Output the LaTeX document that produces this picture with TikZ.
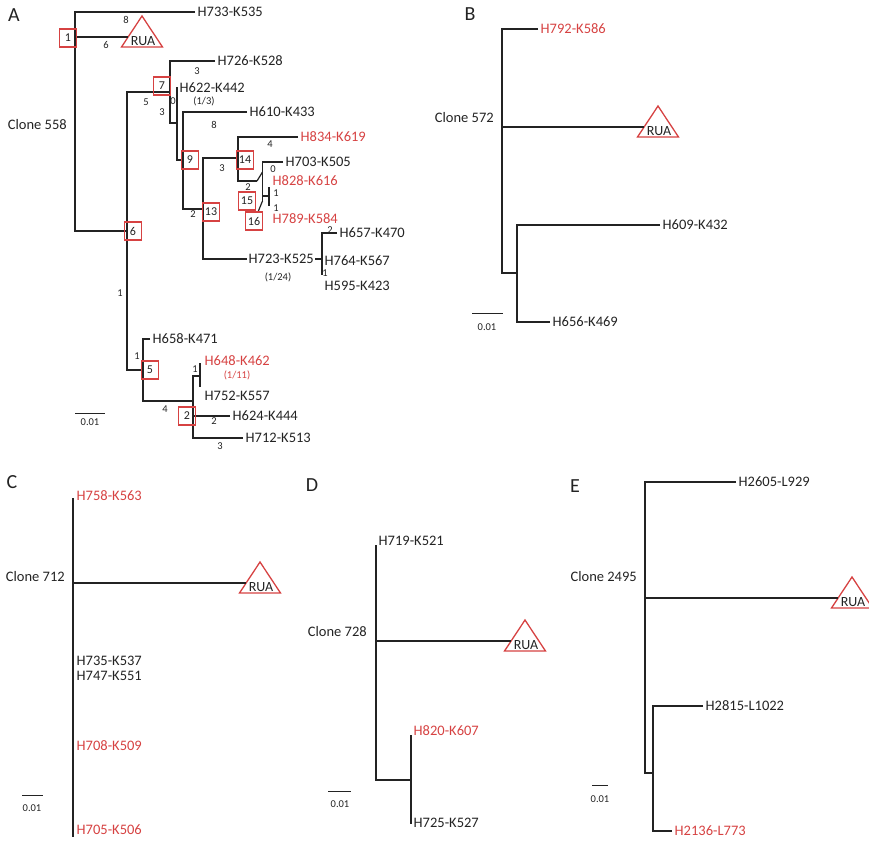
\documentclass[tikz,border=0pt]{standalone}
\usepackage{fontspec}
\setmainfont{Carlito}
\usetikzlibrary{calc}
\definecolor{rd}{RGB}{214,66,66}
\definecolor{ln}{RGB}{35,35,35}
\tikzset{
 br/.style={draw=ln, line width=1.2pt},
 lbl/.style={anchor=west, inner sep=2.5pt, font=\fontsize{14.5}{16}\selectfont, text=ln},
 rlbl/.style={lbl, text=rd},
 el/.style={inner sep=0pt, font=\fontsize{10.5}{12}\selectfont, text=ln},
 rel/.style={el, text=rd},
 nbox/.style={draw=rd, line width=1.2pt, minimum width=17pt, minimum height=18pt, inner sep=0pt, font=\fontsize{12}{14}\selectfont, text=ln},
 rua/.style={draw=rd, line width=1.3pt, line join=miter},
 ruatext/.style={inner sep=0pt, font=\fontsize{14}{16}\selectfont, text=ln},
 clone/.style={anchor=east, inner sep=0pt, font=\fontsize{14.5}{16}\selectfont, text=ln},
 panel/.style={inner sep=0pt, font=\fontsize{20}{22}\selectfont, text=ln},
 sbar/.style={draw=ln, line width=1pt},
 stxt/.style={inner sep=0pt, font=\fontsize{10.5}{12}\selectfont, text=ln},
}
\newcommand\ruamark[3]{%
  \draw[rua] (#2-20.5,#3) -- (#2,#3-31) -- (#2+20.5,#3) -- cycle;
  \node[ruatext] (#1) at (#2+1,#3-6) {RUA};
  \coordinate (#1-in) at (#2-13.6,#3-10);
}
\begin{document}
\begin{tikzpicture}[x=1pt,y=-1pt]
\useasboundingbox (0,0) rectangle (869,843);

% ================= Panel A =================
\node[panel] (pA) at (14,15) {A};
\node[clone] (cA) at (67,125) {Clone 558};

\coordinate (A-n1) at (75,37);
\coordinate (A-rb) at (75,231);
\coordinate (A-n6) at (127,231);
\coordinate (A-6t) at (127,92);
\coordinate (A-n7) at (170,92);
\coordinate (A-6b) at (127,370);
\coordinate (A-n5) at (143,370);

\node[lbl] (A733) at (195,12) {H733-K535};
\ruamark{Arua}{142}{47}
\draw[br] (A733.west) -| (A-rb) -- (A-n6);
\draw[br] (A-n1) -- (A-n1 -| Arua-in);
\draw[br] (A-n7) -- (A-6t) -- (A-6b) -- (A-n5);

% node 7
\node[lbl] (A726) at (215,61) {H726-K528};
\coordinate (A-7b) at (170,123);
\coordinate (A-n8) at (177,123);
\draw[br] (A726.west) -| (A-7b) -- (A-n8);

% H622 / node 9
\coordinate (A-622t) at (177,87);
\coordinate (A-n9) at (183,160);
\node[lbl] (A622) at (177,88) {H622-K442};
\draw[br] (A-622t) |- (A-n9);

\node[lbl] (A610) at (247,112) {H610-K433};
\coordinate (A-n13) at (203,209);
\draw[br] (A610.west) -| (A-n9) |- (A-n13);

% node 13
\coordinate (A-n14) at (238,158);
\coordinate (A-n723) at (322,259);
\draw[br] (A-n14) -| (A-n13) |- (A-n723);
\node[lbl, fill=white, inner sep=1.5pt] (A723) at (247,259) {H723-K525};

\node[lbl, inner ysep=0pt] (A657) at (337,233) {H657-K470};
\coordinate (A-723b) at (322,275);
\draw[br] (A657.west) -| (A-723b);
\node[lbl] (A764) at (322,261) {H764-K567};
\node[lbl] (A595) at (322,286) {H595-K423};

% node 14
\node[rlbl] (A834) at (298,137) {H834-K619};
\coordinate (A-14b) at (238,181);
\coordinate (A-n15) at (257,181);
\draw[br] (A834.west) -| (A-14b) -- (A-n15);
\coordinate (A-15v) at (262.5,172);
\draw[br] (A-n15) -- (A-15v);
\node[lbl] (A703) at (283,162) {H703-K505};
\coordinate (A-16t) at (262.5,201);
\draw[br] (A703.west) -| (A-16t);
\coordinate (A-tk) at (269,196);
\coordinate (A-tkt) at (269,187);
\coordinate (A-tkb) at (269,206);
\draw[br] (A-tk -| A-16t) -- (A-tk);
\draw[br] (A-tkt) -- (A-tkb);
\coordinate (A-16d) at (258,212);
\draw[br] (A-16t) -- (A-16d);
\node[rlbl] (A828) at (270,181) {H828-K616};
\node[rlbl, inner ysep=0pt] (A789) at (270,219) {H789-K584};

% node 5 / node 2
\node[lbl] (A658) at (150,339) {H658-K471};
\coordinate (A-n2) at (193,401);
\draw[br] (A658.west) -| (A-n5) |- (A-n2);
\coordinate (A-648) at (200,376);
\node[lbl] (A712) at (243,438) {H712-K513};
\node[lbl] (A624) at (230,416) {H624-K444};
\draw[br] (A-648) -| (A-n2) |- (A712.west);
\draw[br] (A-n2 |- A624.west) -- (A624.west);
\coordinate (A-648t) at (200,363);
\coordinate (A-648b) at (200,387);
\draw[br] (A-648t) -- (A-648b);
\node[rlbl] (A648) at (202,361) {H648-K462};
\node[rel] (A648f) at (237,375) {(1/11)};
\node[lbl] (A752) at (202,396) {H752-K557};

% edge labels
\node[el] (e1) at (126,20) {8};
\node[el] (e2) at (106,45) {6};
\node[el] (e3) at (146,102) {5};
\node[el] (e4) at (197,71) {3};
\node[el] (e5) at (173,101) {0};
\node[el] (e6) at (204,101) {(1/3)};
\node[el] (e7) at (162,112) {3};
\node[el] (e8) at (214,125) {8};
\node[el] (e9) at (193,214) {2};
\node[el] (e10) at (222,168) {3};
\node[el] (e11) at (270,144) {4};
\node[el] (e12) at (273,169) {0};
\node[el] (e13) at (248,187) {2};
\node[el] (e14) at (276,193) {1};
\node[el] (e15) at (276,208) {1};
\node[el] (e16) at (330,230) {2};
\node[el] (e17) at (278,277) {(1/24)};
\node[el] (e18) at (325,273) {1};
\node[el] (e19) at (120,293) {1};
\node[el] (e20) at (137,356) {1};
\node[el] (e21) at (165,409) {4};
\node[el] (e22) at (195,369) {1};
\node[el] (e23) at (214,421) {2};
\node[el] (e24) at (220,446) {3};

% numbered boxes
\node[nbox] (b1) at (68,38) {1};
\node[nbox] (b7) at (162,86) {7};
\node[nbox] (b6) at (133,231) {6};
\node[nbox] (b9) at (190,160) {9};
\node[nbox] (b13) at (211,212) {13};
\node[nbox] (b14) at (245,160) {14};
\node[nbox] (b15) at (247,201) {15};
\node[nbox] (b16) at (254,221) {16};
\node[nbox] (b5) at (150,370) {5};
\node[nbox] (b2) at (187,416) {2};

% scale A
\coordinate (sA1) at (75,413); \coordinate (sA2) at (105,413);
\draw[sbar] (sA1) -- (sA2);
\node[stxt] (sAt) at (90,422) {0.01};

% ================= Panel B =================
\node[panel] (pB) at (470,14) {B};
\node[clone] (cB) at (494,118) {Clone 572};
\node[rlbl] (B792) at (538,29) {H792-K586};
\coordinate (B-rb) at (502,273);
\coordinate (B-n1) at (517,273);
\draw[br] (B792.west) -| (B-rb) -- (B-n1);
\ruamark{Brua}{658}{137}
\coordinate (B-r) at (502,127);
\draw[br] (B-r) -- (B-r -| Brua-in);
\node[lbl] (B609) at (660,225) {H609-K432};
\node[lbl] (B656) at (550,322) {H656-K469};
\draw[br] (B609.west) -| (B-n1) |- (B656.west);
\coordinate (sB1) at (472,313); \coordinate (sB2) at (503,313);
\draw[sbar] (sB1) -- (sB2);
\node[stxt] (sBt) at (487,327) {0.01};

% ================= Panel C =================
\node[panel] (pC) at (12,482) {C};
\node[clone] (cC) at (65,577) {Clone 712};
\coordinate (C-t) at (73,498);
\coordinate (C-b) at (73,837);
\draw[br] (C-t) -- (C-b);
\ruamark{Crua}{260}{593}
\coordinate (C-r) at (73,583);
\draw[br] (C-r) -- (C-r -| Crua-in);
\node[rlbl] (C758) at (74,496) {H758-K563};
\node[lbl] (C735) at (74,661) {H735-K537};
\node[lbl] (C747) at (74,676) {H747-K551};
\node[rlbl] (C708) at (74,746) {H708-K509};
\node[rlbl] (C705) at (74,830) {H705-K506};
\coordinate (sC1) at (22,795); \coordinate (sC2) at (43,795);
\draw[sbar] (sC1) -- (sC2);
\node[stxt] (sCt) at (32,808) {0.01};

% ================= Panel D =================
\node[panel] (pD) at (312,485) {D};
\node[clone] (cD) at (367,632) {Clone 728};
\node[lbl] (D719) at (376,541) {H719-K521};
\coordinate (D-t) at (376,545);
\coordinate (D-rb) at (376,780);
\coordinate (D-n1) at (411,780);
\draw[br] (D-t) -- (D-rb) -- (D-n1);
\ruamark{Drua}{525}{651}
\coordinate (D-r) at (376,641);
\draw[br] (D-r) -- (D-r -| Drua-in);
\coordinate (D-1t) at (411,735);
\coordinate (D-1b) at (411,824);
\draw[br] (D-1t) -- (D-1b);
\node[rlbl] (D820) at (411,731) {H820-K607};
\node[lbl] (D725) at (411,823) {H725-K527};
\coordinate (sD1) at (328,791); \coordinate (sD2) at (351,791);
\draw[sbar] (sD1) -- (sD2);
\node[stxt] (sDt) at (340,804) {0.01};

% ================= Panel E =================
\node[panel] (pE) at (575,486) {E};
\node[clone] (cE) at (637,577) {Clone 2495};
\node[lbl] (E2605) at (736,482) {H2605-L929};
\coordinate (E-rb) at (645,773);
\coordinate (E-n1) at (653,773);
\draw[br] (E2605.west) -| (E-rb) -- (E-n1);
\ruamark{Erua}{852}{608}
\coordinate (E-r) at (645,598);
\draw[br] (E-r) -- (E-r -| Erua-in);
\node[lbl] (E2815) at (703,706) {H2815-L1022};
\node[rlbl] (E2136) at (672,831) {H2136-L773};
\draw[br] (E2815.west) -| (E-n1) |- (E2136.west);
\coordinate (sE1) at (592,785); \coordinate (sE2) at (608,785);
\draw[sbar] (sE1) -- (sE2);
\node[stxt] (sEt) at (600,799) {0.01};
\end{tikzpicture}
\end{document}
